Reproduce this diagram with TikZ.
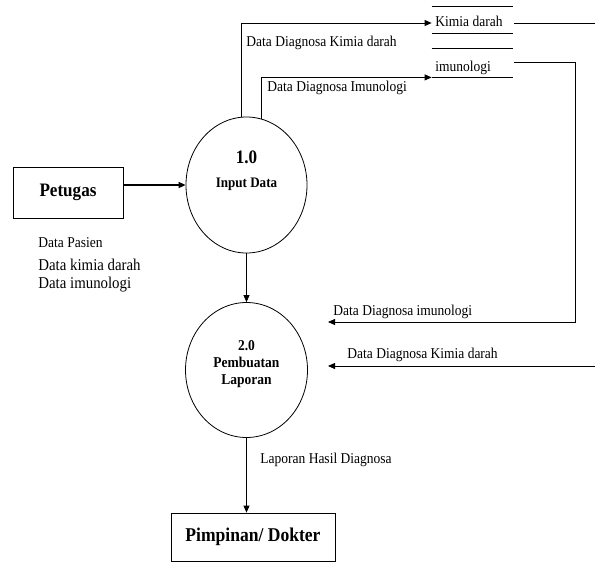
\documentclass[tikz,border=0pt]{standalone}
\usepackage{fontspec}
\setmainfont{Liberation Serif}[FakeStretch=0.9]
\usetikzlibrary{arrows.meta,shapes.geometric,calc}
\begin{document}
\begin{tikzpicture}[x=1pt,y=-1pt,
  line width=0.8pt,
  arr/.style={-{Triangle[length=7pt,width=6pt]}},
  proc/.style={draw, ellipse, minimum width=121pt, minimum height=136pt, inner sep=0pt},
  ent/.style={draw, rectangle, inner sep=0pt, font=\fontsize{19}{21}\selectfont\bfseries},
  lbl/.style={anchor=west, inner sep=0pt, font=\fontsize{15}{17}\selectfont},
  big/.style={anchor=west, inner sep=0pt, font=\fontsize{16.5}{18}\selectfont},
  ptxt/.style={inner sep=0pt, font=\fontsize{15}{17}\selectfont\bfseries},
  storebar/.style={minimum width=81pt, inner sep=0pt}]
\useasboundingbox (0,0) rectangle (595,563);

% entities
\node[ent, minimum width=110pt, minimum height=51pt] (pet) at (68,192.5) {Petugas};
\node[ent, minimum width=164pt, minimum height=48pt, font=\fontsize{19.5}{21}\selectfont\bfseries] (pim) at (253,537) {Pimpinan/ Dokter};

% processes
\node[proc] (c1) at (246.5,185) {};
\node[ptxt, font=\fontsize{19}{21}\selectfont\bfseries] (t10) at (246.5,157) {1.0};
\node[ptxt, font=\fontsize{14.5}{16}\selectfont\bfseries] (tin) at (246.5,184) {Input Data};

\node[proc, minimum height=135pt, minimum width=122pt] (c2) at (246.5,370) {};
\node[ptxt] (t20) at (246.5,346) {2.0};
\node[ptxt] (tpb) at (246.5,362) {Pembuatan};
\node[ptxt] (tlp) at (246.5,381) {Laporan};

% data stores
\node[storebar, minimum height=26pt] (kd) at (472.5,20) {};
\node[lbl] (kdt) at (435,21) {Kimia darah};
\node[storebar, minimum height=28pt] (im) at (472.5,63) {};
\node[lbl] (imt) at (435,68) {imunologi};
\draw (kd.north west) -- (kd.north east) (kd.south west) -- (kd.south east);
\draw (im.north west) -- (im.north east) (im.south west) -- (im.south east);

% labels
\node[lbl] (l1) at (246,43) {Data Diagnosa Kimia darah};
\node[lbl] (l2) at (267,88) {Data Diagnosa Imunologi};
\node[lbl] (l3) at (333,312) {Data Diagnosa imunologi};
\node[lbl] (l4) at (347,355) {Data Diagnosa Kimia darah};
\node[lbl] (l5) at (260,460) {Laporan Hasil Diagnosa};
\node[lbl] (l6) at (38,243) {Data Pasien};
\node[big] (l7) at (38,265) {Data kimia darah};
\node[big] (l8) at (38,285) {Data imunologi};

% connectors
\draw[arr, line width=1.6pt] (pet.east |- c1.west) -- (c1.west);
\draw[arr] (c1.south) -- (c2.north);
\draw[arr] (c2.south) -- (c2.south |- pim.north);
\draw[arr] (c1.94) |- ($(kd.west)+(0,3)$);
\draw[arr] (c1.77) |- (im.south west);
\coordinate (kdout) at (595,23);
\draw ($(kd.east)+(1,3)$) -- (kdout);
\coordinate (imin) at (328,322);
\draw[arr] ($(im.east)+(1,-1)$) -- ++(61,0) |- (imin);
\coordinate (kdsrc) at (595,366);
\coordinate (kdin) at (328,366);
\draw[arr] (kdsrc) -- (kdin);
\end{tikzpicture}
\end{document}
